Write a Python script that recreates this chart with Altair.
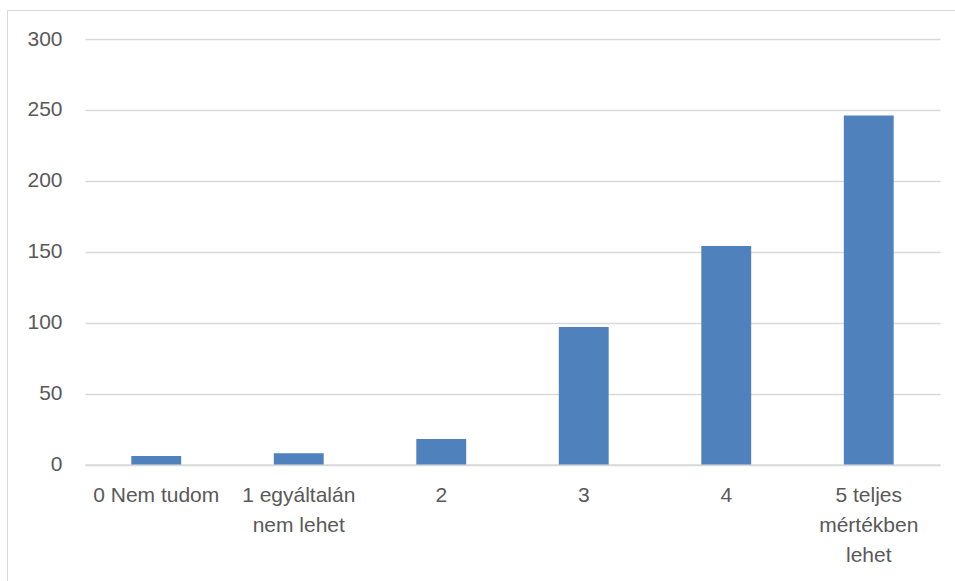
import altair as alt
import pandas as pd

categories = ["0 Nem tudom", "1 egyáltalán\nnem lehet", "2", "3", "4", "5 teljes\nmértékben\nlehet"]
values = [6, 8, 18, 97, 154, 246]

df = pd.DataFrame({"cat": categories, "val": values})

FONT = "Liberation Sans, Arial, sans-serif"

bars = alt.Chart(df).mark_bar(color="#4F81BD").encode(
    x=alt.X("cat:N", sort=categories, title=None,
            scale=alt.Scale(paddingInner=0.65, paddingOuter=0.325),
            axis=alt.Axis(labelAngle=0, labelExpr="split(datum.label, '\\n')",
                          labelFont=FONT, labelFontSize=21, labelColor="#595959",
                          labelLineHeight=30, labelPadding=20, labelBaseline="top",
                          ticks=False, domain=True, domainColor="#d9d9d9",
                          domainWidth=1.5, grid=False, labelLimit=200)),
    y=alt.Y("val:Q", title=None,
            scale=alt.Scale(domain=[0, 300], nice=False),
            axis=alt.Axis(values=[0, 50, 100, 150, 200, 250, 300],
                          labelFont=FONT, labelFontSize=21, labelColor="#595959",
                          labelPadding=23, ticks=False, domain=False,
                          grid=True, gridColor="#d9d9d9", gridWidth=1.5)),
)

border = alt.Chart(pd.DataFrame({"a": [0]})).mark_rule(color="#d9d9d9", strokeWidth=1)
top_line = border.encode(x=alt.value(-77.5), x2=alt.value(900), y=alt.value(-28.5))
left_line = border.encode(x=alt.value(-77.5), y=alt.value(-28.5), y2=alt.value(600))

chart = alt.layer(bars, top_line, left_line).properties(
    width=855, height=425.5,
    autosize=alt.AutoSizeParams(type="none"),
    padding={"left": 85, "top": 39, "right": 15, "bottom": 116},
    background="white",
).configure_view(stroke=None)

chart.save("out.html", embed_options={"renderer": "svg", "actions": False})
